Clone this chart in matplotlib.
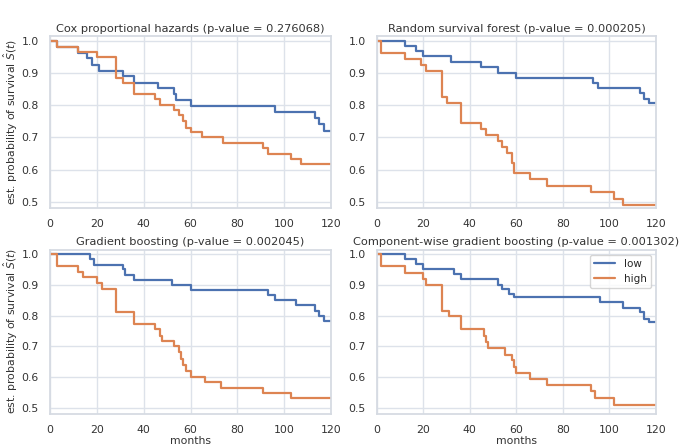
import matplotlib
matplotlib.use("Agg")
import matplotlib.pyplot as plt
import seaborn as sns

# step points: (months, est. survival), step changes at each time
titles = [
    "Cox proportional hazards (p-value = 0.276068)",
    "Random survival forest (p-value = 0.000205)",
    "Gradient boosting (p-value = 0.002045)",
    "Component-wise gradient boosting (p-value = 0.001302)",
]

cox_low_t = [0, 3, 12, 16, 18, 21, 31, 36, 46, 53, 54, 55, 60, 96, 113, 115, 117, 120]
cox_low_s = [1.0, 0.98, 0.963, 0.945, 0.925, 0.907, 0.89, 0.87, 0.852, 0.833, 0.815, 0.815,
             0.797, 0.778, 0.76, 0.74, 0.72, 0.72]
cox_high_t = [0, 3, 12, 20, 28, 31, 36, 45, 47, 53, 55, 57, 58, 60, 65, 74, 91, 93, 103, 107, 120]
cox_high_s = [1.0, 0.98, 0.965, 0.95, 0.885, 0.868, 0.835, 0.82, 0.80, 0.785, 0.77, 0.75,
              0.73, 0.715, 0.70, 0.683, 0.667, 0.648, 0.633, 0.617, 0.617]

rsf_low_t = [0, 12, 17, 20, 32, 45, 52, 60, 93, 95, 97, 113, 115, 117, 120]
rsf_low_s = [1.0, 0.983, 0.967, 0.953, 0.935, 0.918, 0.90, 0.885, 0.87, 0.853, 0.853,
             0.838, 0.82, 0.805, 0.805]
rsf_high_t = [0, 2, 12, 19, 21, 28, 30, 36, 45, 47, 52, 54, 56, 58, 59, 66, 73, 92, 102, 106, 120]
rsf_high_s = [1.0, 0.962, 0.943, 0.925, 0.905, 0.825, 0.805, 0.745, 0.727, 0.708, 0.69,
              0.67, 0.65, 0.62, 0.59, 0.57, 0.55, 0.53, 0.51, 0.49, 0.49]

gb_low_t = [0, 17, 19, 31, 32, 36, 52, 60, 93, 96, 105, 113, 115, 117, 120]
gb_low_s = [1.0, 0.983, 0.965, 0.95, 0.933, 0.915, 0.90, 0.883, 0.867, 0.85, 0.833,
            0.815, 0.80, 0.782, 0.782]
gb_high_t = [0, 3, 12, 14, 20, 22, 28, 36, 45, 47, 48, 53, 55, 56, 57, 58, 60, 66, 73, 91, 103, 120]
gb_high_s = [1.0, 0.962, 0.943, 0.925, 0.905, 0.888, 0.812, 0.773, 0.755, 0.735, 0.718,
             0.70, 0.68, 0.66, 0.64, 0.62, 0.60, 0.585, 0.565, 0.548, 0.53, 0.53]

cwgb_low_t = [0, 12, 17, 20, 33, 36, 52, 54, 57, 59, 96, 106, 113, 115, 117, 120]
cwgb_low_s = [1.0, 0.983, 0.967, 0.953, 0.935, 0.92, 0.90, 0.885, 0.87, 0.86, 0.843,
              0.825, 0.81, 0.79, 0.78, 0.78]
cwgb_high_t = [0, 2, 12, 20, 21, 28, 31, 36, 46, 47, 48, 55, 58, 59, 60, 66, 73, 92, 94, 102, 120]
cwgb_high_s = [1.0, 0.96, 0.94, 0.92, 0.90, 0.815, 0.797, 0.755, 0.735, 0.715, 0.695,
               0.673, 0.655, 0.632, 0.612, 0.593, 0.573, 0.553, 0.53, 0.51, 0.51]

curves = [
    (cox_low_t, cox_low_s, cox_high_t, cox_high_s),
    (rsf_low_t, rsf_low_s, rsf_high_t, rsf_high_s),
    (gb_low_t, gb_low_s, gb_high_t, gb_high_s),
    (cwgb_low_t, cwgb_low_s, cwgb_high_t, cwgb_high_s),
]

sns.set_theme(style="whitegrid", palette="deep")
plt.rcParams["font.family"] = ["DejaVu Sans"]
plt.rcParams["grid.color"] = "#dde2ea"
plt.rcParams["axes.edgecolor"] = "#d5dae2"

fig = plt.figure(figsize=(6.79, 4.48), dpi=100)
lefts = [0.0736, 0.555, 0.0736, 0.555]
bottoms = [0.536, 0.536, 0.077, 0.077]
w = 0.414
h = 0.384

for i in range(4):
    ax = fig.add_axes([lefts[i], bottoms[i], w - (0.003 if i % 2 else 0), h if i < 2 else 0.366])
    lt, ls, ht, hs = curves[i]
    ax.step(lt, ls, where="post", label="low", linewidth=1.6)
    ax.step(ht, hs, where="post", label="high", linewidth=1.6)
    ax.set_xlim(0, 120)
    ax.set_ylim(0.481, 1.015)
    ax.set_xticks([0, 20, 40, 60, 80, 100, 120])
    ax.set_yticks([0.5, 0.6, 0.7, 0.8, 0.9, 1.0])
    ax.tick_params(axis="both", labelsize=7.8, pad=2, labelcolor="#333333")
    ax.set_title(titles[i], fontsize=8.2, pad=3, color="#333333")
    if i % 2 == 0:
        ax.set_ylabel("est. probability of survival $\\hat{S}(t)$", fontsize=7.8, labelpad=1,
                      color="#333333")
    if i >= 2:
        ax.set_xlabel("months", fontsize=7.8, labelpad=1, color="#333333")
    if i == 3:
        ax.legend(loc="upper right", fontsize=7.5)

plt.savefig("out.png", dpi=100)
